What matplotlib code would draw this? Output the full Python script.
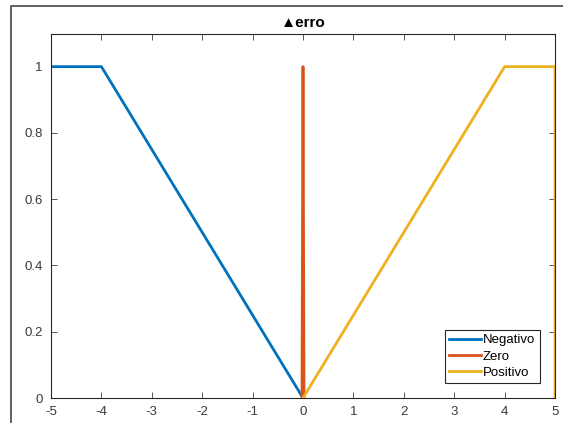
import matplotlib.pyplot as plt
import matplotlib.lines as mlines

plt.rcParams['font.family'] = ['Liberation Sans', 'DejaVu Sans']
plt.rcParams['axes.unicode_minus'] = False

# membership functions of "erro" variation
neg_x = [-5, -4, 0]
neg_y = [1, 1, 0]
zero_x = [-0.02, 0, 0.02]
zero_y = [0, 1, 0]
pos_x = [0, 4, 5, 5]
pos_y = [0, 1, 1, 0]
labels = ['Negativo', 'Zero', 'Positivo']
colors = ['#0072BD', '#D95319', '#EDB120']

fig = plt.figure(figsize=(5.63, 4.23), dpi=100)
ax = fig.add_axes([0.0906, 0.0591, 0.8952, 0.8617])

# outer window frame of the screenshot
fig.add_artist(mlines.Line2D([10.5/563, 10.5/563, 1.0], [0, 1-6.5/423, 1-6.5/423],
                             transform=fig.transFigure, color='#444444', lw=1.2))

ax.plot(neg_x, neg_y, color=colors[0], lw=2, label=labels[0])
ax.plot(zero_x, zero_y, color=colors[1], lw=2, label=labels[1])
ax.plot(pos_x, pos_y, color=colors[2], lw=2, label=labels[2])

ax.set_xlim(-5, 5)
ax.set_ylim(0, 1.1)
ax.set_xticks(range(-5, 6))
ax.set_yticks([0, 0.2, 0.4, 0.6, 0.8, 1])
ax.set_yticklabels(['0', '0.2', '0.4', '0.6', '0.8', '1'])
ax.tick_params(direction='in', top=True, right=True, labelsize=9.5,
               colors='#3a3a3a', length=4, width=0.6, pad=6)
for s in ax.spines.values():
    s.set_color('#262626')
    s.set_linewidth(0.8)

ax.set_title('▲erro', fontsize=11, fontweight='bold', pad=5)

leg = ax.legend(loc='lower right', bbox_to_anchor=(0.97, 0.04), fontsize=9.5,
                handlelength=2.4, handletextpad=0.15, borderpad=0.35,
                labelspacing=0.3, fancybox=False, framealpha=1,
                edgecolor='#262626', borderaxespad=0)
leg.get_frame().set_linewidth(0.8)

fig.savefig('out.png', dpi=100)
